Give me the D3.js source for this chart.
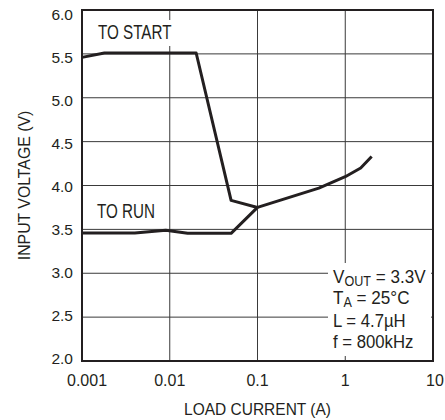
<!DOCTYPE html>
<html>
<head>
<meta charset="utf-8">
<script src="https://cdn.jsdelivr.net/npm/d3@7"></script>
<style>
  body { margin: 0; background: #fff; }
  svg text { font-family: "Liberation Sans", Arial, sans-serif; fill: #231f20; }
</style>
</head>
<body>
<svg width="445" height="420"></svg>
<script>
// tick values
var xTicks = [0.001, 0.01, 0.1, 1, 10];
var xTickLabels = ["0.001", "0.01", "0.1", "1", "10"];
var yTicks = [2.0, 2.5, 3.0, 3.5, 4.0, 4.5, 5.0, 5.5, 6.0];

// "TO START" curve
var startCurrent = [0.001, 0.0018, 0.02, 0.05, 0.1, 0.5, 1, 1.5, 2];
var startVoltage = [5.46, 5.51, 5.51, 3.83, 3.75, 3.97, 4.1, 4.2, 4.33];

// "TO RUN" curve
var runCurrent = [0.001, 0.004, 0.009, 0.016, 0.05, 0.1];
var runVoltage = [3.46, 3.46, 3.49, 3.455, 3.455, 3.75];

var svg = d3.select("svg"),
    margin = {top: 10, right: 12, bottom: 59, left: 82},
    width = +svg.attr("width") - margin.left - margin.right,
    height = +svg.attr("height") - margin.top - margin.bottom;

var x = d3.scaleLog().domain([0.001, 10]).range([0, width]);
var y = d3.scaleLinear().domain([2, 6]).range([height, 0]);
// le etichette dell'asse y sono leggermente piu' fitte della griglia
var yLab = d3.scaleLinear().domain([2, 6]).range([height - 2, 4.7]);

var g = svg.append("g")
    .attr("transform", "translate(" + margin.left + "," + margin.top + ")");

// testo "condensato": scala orizzontale attorno al punto di ancoraggio
function narrow(sel, px, py, sx, rot) {
  return sel.attr("x", 0).attr("y", 0)
    .attr("transform", "translate(" + px + "," + py + ")" + (rot ? " rotate(" + rot + ")" : "") + " scale(" + sx + ",1)");
}

// griglia
g.selectAll(".vgrid")
  .data(xTicks.slice(1, -1))
  .enter().append("line")
    .attr("x1", function(d) { return x(d); })
    .attr("x2", function(d) { return x(d); })
    .attr("y1", 0).attr("y2", height)
    .attr("stroke", "#3a3a3a").attr("stroke-width", 1);

g.selectAll(".hgrid")
  .data(yTicks.slice(1, -1))
  .enter().append("line")
    .attr("y1", function(d) { return y(d); })
    .attr("y2", function(d) { return y(d); })
    .attr("x1", 0).attr("x2", width)
    .attr("stroke", "#3a3a3a").attr("stroke-width", 1);

// etichette assi
g.selectAll(".ylab")
  .data(yTicks)
  .enter().append("text")
    .attr("x", -9)
    .attr("y", function(d) { return yLab(d); })
    .attr("dy", "0.35em")
    .attr("text-anchor", "end")
    .style("font-size", "15.5px")
    .text(function(d) { return d.toFixed(1); });

g.selectAll(".xlab")
  .data(xTicks)
  .enter().append("text")
    .attr("x", function(d) { return x(d); })
    .attr("dx", function(d, i) { return i == 0 ? 5 : (i == xTicks.length - 1 ? 2 : 0); })
    .attr("y", height + 25)
    .attr("text-anchor", "middle")
    .style("font-size", "16px")
    .text(function(d, i) { return xTickLabels[i]; });

narrow(g.append("text"), width / 2, height + 54, 0.94)
  .attr("text-anchor", "middle")
  .style("font-size", "16.5px")
  .text("LOAD CURRENT (A)");

narrow(g.append("text"), -52, height / 2, 0.96, -90)
  .attr("text-anchor", "middle")
  .style("font-size", "16.5px")
  .text("INPUT VOLTAGE (V)");

// box annotazioni
g.append("rect")
  .attr("x", 246).attr("y", 253)
  .attr("width", 103).attr("height", 93)
  .attr("fill", "#fff");

var t1 = narrow(g.append("text"), 251, 273, 0.9).style("font-size", "19px");
t1.append("tspan").text("V");
t1.append("tspan").attr("dy", 3).style("font-size", "14px").text("OUT");
t1.append("tspan").attr("dy", -3).text(" = 3.3V");
var t2 = narrow(g.append("text"), 251, 294, 0.9).style("font-size", "19px");
t2.append("tspan").text("T");
t2.append("tspan").attr("dy", 3).style("font-size", "14px").text("A");
t2.append("tspan").attr("dy", -3).text(" = 25°C");
narrow(g.append("text"), 251, 316.5, 0.88).style("font-size", "19px").text("L = 4.7µH");
narrow(g.append("text"), 251, 337.5, 0.88).style("font-size", "19px").text("f = 800kHz");

// etichette curve
g.append("rect")
  .attr("x", 10).attr("y", 10)
  .attr("width", 82).attr("height", 26)
  .attr("fill", "#fff");
narrow(g.append("text"), 16, 29, 0.78).style("font-size", "19.5px").text("TO START");
narrow(g.append("text"), 15, 208, 0.78).style("font-size", "19.5px").text("TO RUN");

// curve
var line = d3.line()
  .x(function(d) { return x(d[0]); })
  .y(function(d) { return y(d[1]); });

g.append("path")
  .datum(d3.zip(startCurrent, startVoltage))
  .attr("d", line)
  .attr("fill", "none").attr("stroke", "#231f20")
  .attr("stroke-width", 3).attr("stroke-linejoin", "round");

g.append("path")
  .datum(d3.zip(runCurrent, runVoltage))
  .attr("d", line)
  .attr("fill", "none").attr("stroke", "#231f20")
  .attr("stroke-width", 3).attr("stroke-linejoin", "round");

// cornice
g.append("rect")
  .attr("x", 0).attr("y", 0)
  .attr("width", width).attr("height", height)
  .attr("fill", "none").attr("stroke", "#231f20").attr("stroke-width", 2);
</script>
</body>
</html>
